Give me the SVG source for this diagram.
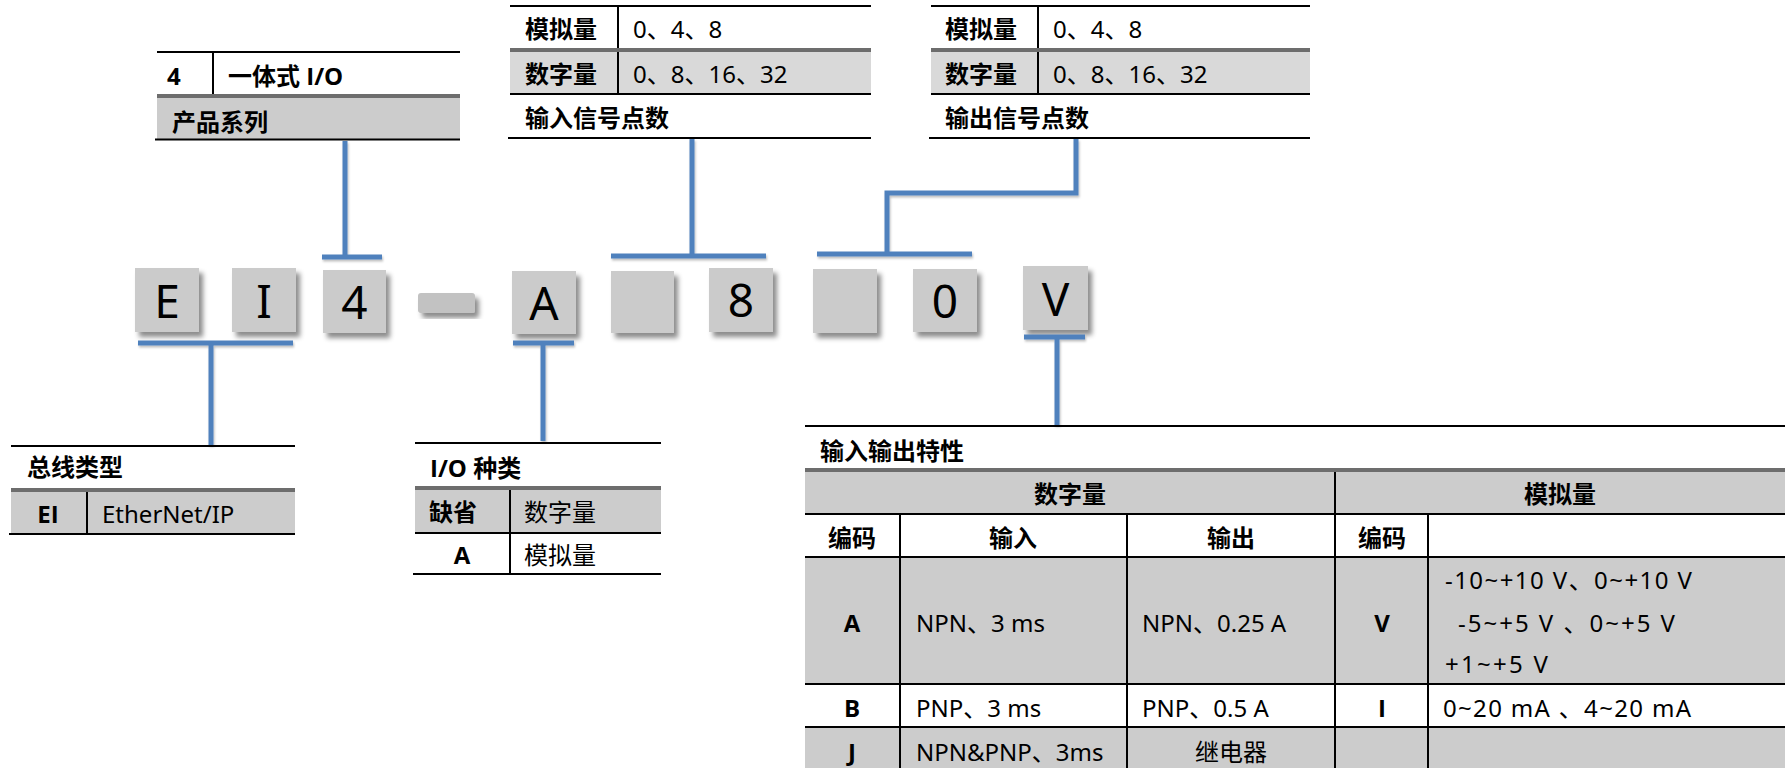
<svg xmlns="http://www.w3.org/2000/svg" width="1785" height="768" viewBox="0 0 1785 768">
<style>
.t{font-family:"Noto Sans","Noto Sans CJK SC",sans-serif;font-size:24px;fill:#000;dominant-baseline:central}
.b{font-family:"Open Sans","Noto Sans CJK SC",sans-serif;font-weight:700}
.c{text-anchor:middle}
.ln{stroke:#000;stroke-width:2;fill:none}
.sep{stroke:#6d6d6d;stroke-width:4}
.g{fill:#cccccc}
.g2{fill:#d9d9d9}
.box{fill:#cbcbcb;filter:url(#sh)}
.big{font-family:"Noto Sans","Open Sans",sans-serif;font-size:46px;fill:#000;text-anchor:middle}
.bl{stroke:#4f81bd;stroke-width:5;fill:none;filter:url(#lsh)}
</style>
<defs>
<filter id="sh" x="-20%" y="-20%" width="150%" height="150%">
<feDropShadow dx="4" dy="5" stdDeviation="2.5" flood-color="#000" flood-opacity="0.45"/>
</filter>
<filter id="lsh" x="-10%" y="-10%" width="130%" height="130%">
<feDropShadow dx="1" dy="2" stdDeviation="1.2" flood-color="#000" flood-opacity="0.25"/>
</filter>
</defs>
<rect width="1785" height="768" fill="#fff"/>

<!-- Product series -->
<g id="tbl-series">
<rect class="g" x="157" y="98" width="303" height="41"/>
<line class="ln" x1="157" y1="52" x2="460" y2="52"/>
<line class="ln" x1="213" y1="52" x2="213" y2="95"/>
<line class="sep" x1="157" y1="96" x2="460" y2="96"/>
<line class="ln" x1="155" y1="139.5" x2="460" y2="139.5"/>
<text class="t b" x="167" y="75">4</text>
<text class="t b" x="228" y="75">一体式 I/O</text>
<text class="t b" x="172" y="121">产品系列</text>
</g>

<!-- Input points -->
<g id="tbl-input">
<rect class="g2" x="510" y="52" width="361" height="42"/>
<line class="ln" x1="510" y1="6" x2="871" y2="6"/>
<line class="ln" x1="618" y1="6" x2="618" y2="94"/>
<line class="sep" x1="510" y1="50" x2="871" y2="50"/>
<line class="ln" x1="510" y1="94" x2="871" y2="94"/>
<line class="ln" x1="508" y1="138" x2="871" y2="138"/>
<text class="t b" x="525" y="28">模拟量</text>
<text class="t" x="633" y="28">0、4、8</text>
<text class="t b" x="525" y="73">数字量</text>
<text class="t" x="633" y="73">0、8、16、32</text>
<text class="t b" x="525" y="117">输入信号点数</text>
</g>

<!-- Output points -->
<g id="tbl-output">
<rect class="g2" x="931" y="52" width="379" height="42"/>
<line class="ln" x1="931" y1="6" x2="1310" y2="6"/>
<line class="ln" x1="1038" y1="6" x2="1038" y2="94"/>
<line class="sep" x1="931" y1="50" x2="1310" y2="50"/>
<line class="ln" x1="931" y1="94" x2="1310" y2="94"/>
<line class="ln" x1="929" y1="138" x2="1310" y2="138"/>
<text class="t b" x="945" y="28">模拟量</text>
<text class="t" x="1053" y="28">0、4、8</text>
<text class="t b" x="945" y="73">数字量</text>
<text class="t" x="1053" y="73">0、8、16、32</text>
<text class="t b" x="945" y="117">输出信号点数</text>
</g>

<!-- Code boxes -->
<g id="box-E"><rect class="box" x="135" y="268" width="64" height="64"/><text class="big" x="167" y="318">E</text></g>
<g id="box-I"><rect class="box" x="232" y="268" width="64" height="64"/><text class="big" x="264" y="318">I</text></g>
<g id="box-4"><rect class="box" x="323" y="270" width="63" height="63"/><text class="big" x="354.5" y="319">4</text></g>
<g id="dash"><rect x="418" y="293" width="57" height="20" rx="3" fill="#c2c2c2" filter="url(#sh)"/></g>
<g id="box-A"><rect class="box" x="512" y="271" width="64" height="63"/><text class="big" x="544" y="320">A</text></g>
<g id="box-blank1"><rect class="box" x="611" y="271" width="63" height="62"/></g>
<g id="box-8"><rect class="box" x="709" y="268" width="64" height="64"/><text class="big" x="741" y="317">8</text></g>
<g id="box-blank2"><rect class="box" x="813" y="269" width="64" height="64"/></g>
<g id="box-0"><rect class="box" x="913" y="269" width="64" height="63"/><text class="big" x="945" y="318">0</text></g>
<g id="box-V"><rect class="box" x="1023" y="266" width="65" height="64"/><text class="big" x="1055.5" y="316">V</text></g>

<!-- Bus type -->
<g id="tbl-bus">
<rect class="g" x="11" y="492" width="284" height="42"/>
<line class="ln" x1="11" y1="446" x2="295" y2="446"/>
<line class="sep" x1="11" y1="490" x2="295" y2="490"/>
<line class="ln" x1="87" y1="492" x2="87" y2="534"/>
<line class="ln" x1="9" y1="534" x2="295" y2="534"/>
<text class="t b" x="27" y="466">总线类型</text>
<text class="t b c" x="48" y="513">EI</text>
<text class="t" x="102" y="513">EtherNet/IP</text>
</g>

<!-- I/O type -->
<g id="tbl-iotype">
<rect class="g" x="415" y="490" width="246" height="43"/>
<line class="ln" x1="415" y1="443" x2="661" y2="443"/>
<line class="sep" x1="415" y1="488" x2="661" y2="488"/>
<line class="ln" x1="510" y1="490" x2="510" y2="574"/>
<line class="ln" x1="415" y1="533" x2="661" y2="533"/>
<line class="ln" x1="413" y1="574" x2="661" y2="574"/>
<text class="t b" x="430" y="467">I/O 种类</text>
<text class="t b" x="429" y="511">缺省</text>
<text class="t" x="524" y="511">数字量</text>
<text class="t b c" x="462" y="554">A</text>
<text class="t" x="524" y="554">模拟量</text>
</g>

<!-- IO characteristics -->
<g id="tbl-iochar">
<rect class="g" x="805" y="472" width="980" height="42"/>
<rect class="g" x="805" y="557" width="980" height="127"/>
<rect class="g" x="805" y="727" width="980" height="41"/>
<line class="ln" x1="805" y1="426" x2="1785" y2="426"/>
<line class="sep" x1="805" y1="470" x2="1785" y2="470"/>
<line class="ln" x1="805" y1="514" x2="1785" y2="514"/>
<line class="ln" x1="805" y1="557" x2="1785" y2="557"/>
<line class="ln" x1="805" y1="684" x2="1785" y2="684"/>
<line class="ln" x1="805" y1="727" x2="1785" y2="727"/>
<line class="ln" x1="900" y1="514" x2="900" y2="768"/>
<line class="ln" x1="1127" y1="514" x2="1127" y2="768"/>
<line class="ln" x1="1335" y1="472" x2="1335" y2="768"/>
<line class="ln" x1="1428" y1="514" x2="1428" y2="768"/>
<text class="t b" x="820" y="450">输入输出特性</text>
<text class="t b c" x="1070" y="493">数字量</text>
<text class="t b c" x="1560" y="493">模拟量</text>
<text class="t b c" x="852" y="537">编码</text>
<text class="t b c" x="1013" y="537">输入</text>
<text class="t b c" x="1231" y="537">输出</text>
<text class="t b c" x="1382" y="537">编码</text>
<text class="t b c" x="852" y="622">A</text>
<text class="t" x="916" y="622">NPN、3 ms</text>
<text class="t" x="1142" y="622">NPN、0.25 A</text>
<text class="t b c" x="1382" y="622">V</text>
<text class="t" x="1445" y="579" textLength="247" lengthAdjust="spacing">-10~+10 V、0~+10 V</text>
<text class="t" x="1458" y="622" textLength="217" lengthAdjust="spacing">-5~+5 V 、0~+5 V</text>
<text class="t" x="1445" y="663" textLength="103" lengthAdjust="spacing">+1~+5 V</text>
<text class="t b c" x="852" y="707">B</text>
<text class="t" x="916" y="707">PNP、3 ms</text>
<text class="t" x="1142" y="707">PNP、0.5 A</text>
<text class="t b c" x="1382" y="707">I</text>
<text class="t" x="1443" y="707" textLength="248" lengthAdjust="spacing">0~20 mA 、4~20 mA</text>
<text class="t b c" x="852" y="751">J</text>
<text class="t" x="916" y="751">NPN&amp;PNP、3ms</text>
<text class="t c" x="1231" y="751">继电器</text>
</g>

<!-- Connectors -->
<g id="connectors">
<path class="bl" d="M345 141 V257 M322 257 H382"/>
<path class="bl" d="M692 139 V256 M611 256 H766"/>
<path class="bl" d="M1076 139 V193 H887 V254 M817 254 H972"/>
<path class="bl" d="M138 343 H293 M211 343 V445"/>
<path class="bl" d="M513 343 H574 M543 343 V441"/>
<path class="bl" d="M1024 337 H1085 M1057 337 V425"/>
</g>
</svg>
